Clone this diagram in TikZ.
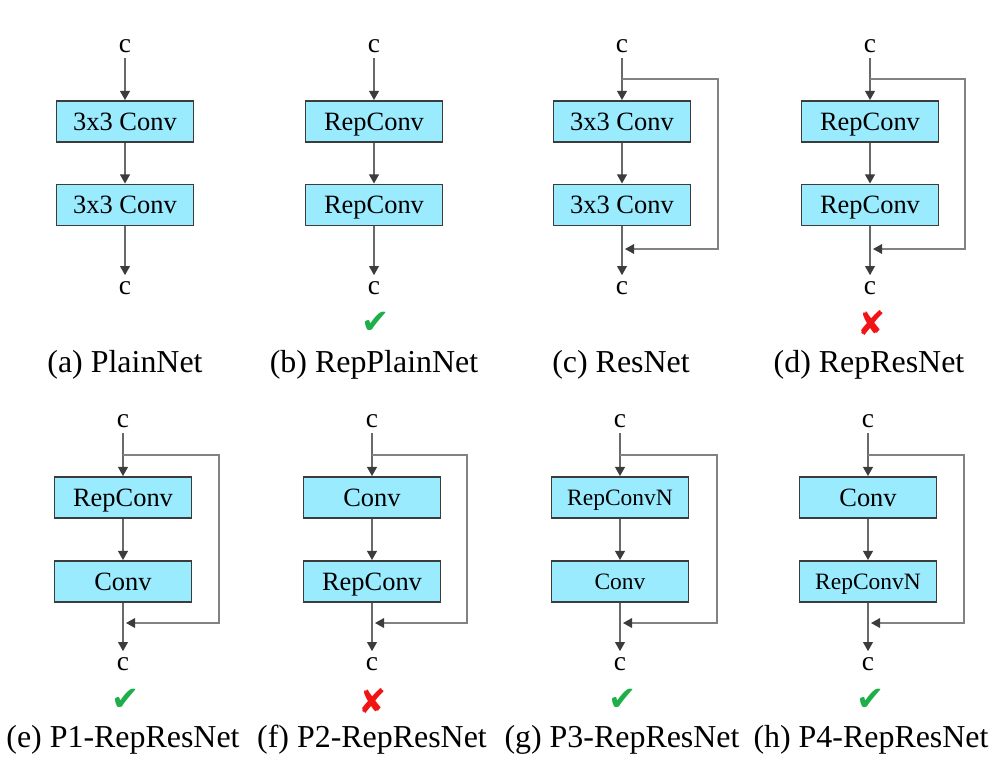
\documentclass[tikz,border=0pt]{standalone}
\usepackage{fontspec}
\setmainfont{Liberation Serif}
\newfontfamily\markfont{DejaVu Sans}
\usetikzlibrary{arrows.meta}

\definecolor{boxfill}{RGB}{155,235,255}
\definecolor{boxline}{RGB}{60,60,60}
\definecolor{wire}{RGB}{105,105,105}
\definecolor{skipwire}{RGB}{130,130,130}
\definecolor{okgreen}{RGB}{30,175,75}
\definecolor{badred}{RGB}{240,20,20}

\tikzset{
  convbox/.style={draw=boxline, fill=boxfill, line width=1.2pt, minimum width=3.42cm,
    minimum height=1.03cm, inner sep=0pt, text height=12.5pt, text depth=0pt,
    font=\fontsize{18.8}{20}\selectfont},
  smallbox/.style={convbox, text height=11.1pt, font=\fontsize{16.7}{18}\selectfont},
  chan/.style={anchor=base, inner sep=4pt, font=\fontsize{19.5}{20}\selectfont},
  caption/.style={anchor=base, inner sep=0pt, font=\fontsize{22.7}{24}\selectfont},
  good/.style={text=okgreen, inner sep=0pt, font=\markfont\fontsize{24}{26}\selectfont},
  bad/.style={text=badred, inner sep=0pt, font=\markfont\fontsize{24}{26}\selectfont},
  flow/.style={draw=wire, line width=1pt, -{Triangle[length=6.5pt,width=7pt,color=boxline]}},
  skip/.style={draw=skipwire, line width=0.9pt, -{Triangle[length=6.5pt,width=7pt,color=boxline]}}
}

\begin{document}
\begin{tikzpicture}[x=0.025cm, y=-0.025cm]
    \useasboundingbox (0,0) rectangle (1005,771);

    % (a) PlainNet
    \node [chan] (a-in) at (125,52) {c};
    \node [convbox] (a-b1) at (125,121.5) {3x3 Conv};
    \node [convbox] (a-b2) at (125,205) {3x3 Conv};
    \node [chan] (a-out) at (125,294) {c};
    \node [caption] (a-lab) at (125,372) {(a) PlainNet};
    \draw [flow] (a-in) -- (a-b1);
    \draw [flow] (a-b1) -- (a-b2);
    \draw [flow] (a-b2) -- (a-out);

    % (b) RepPlainNet
    \node [chan] (b-in) at (374,52) {c};
    \node [convbox] (b-b1) at (374,121.5) {RepConv};
    \node [convbox] (b-b2) at (374,205) {RepConv};
    \node [chan] (b-out) at (374,294) {c};
    \node [good] (b-mark) at (376,323) {✔};
    \node [caption] (b-lab) at (374,372) {(b) RepPlainNet};
    \draw [flow] (b-in) -- (b-b1);
    \draw [flow] (b-b1) -- (b-b2);
    \draw [flow] (b-b2) -- (b-out);

    % (c) ResNet
    \node [chan] (c-in) at (622,52) {c};
    \node [convbox] (c-b1) at (622,121.5) {3x3 Conv};
    \node [convbox] (c-b2) at (622,205) {3x3 Conv};
    \node [chan] (c-out) at (622,294) {c};
    \node [caption] (c-lab) at (621,372) {(c) ResNet};
    \coordinate (c-split) at (622,79);
    \coordinate (c-join) at (625,249);
    \draw [flow] (c-in) -- (c-b1);
    \draw [flow] (c-b1) -- (c-b2);
    \draw [flow] (c-b2) -- (c-out);
    \draw [skip] (c-split) -- (718,79) |- (c-join);

    % (d) RepResNet
    \node [chan] (d-in) at (870,52) {c};
    \node [convbox] (d-b1) at (870,121.5) {RepConv};
    \node [convbox] (d-b2) at (870,205) {RepConv};
    \node [chan] (d-out) at (870,294) {c};
    \node [bad] (d-mark) at (872,323) {✘};
    \node [caption] (d-lab) at (869,372) {(d) RepResNet};
    \coordinate (d-split) at (870,79);
    \coordinate (d-join) at (873,249);
    \draw [flow] (d-in) -- (d-b1);
    \draw [flow] (d-b1) -- (d-b2);
    \draw [flow] (d-b2) -- (d-out);
    \draw [skip] (d-split) -- (965,79) |- (d-join);

    % (e) P1-RepResNet
    \node [chan] (e-in) at (123,427) {c};
    \node [convbox] (e-b1) at (123,497.5) {RepConv};
    \node [convbox] (e-b2) at (123,581.5) {Conv};
    \node [chan] (e-out) at (123,670) {c};
    \node [good] (e-mark) at (126,700) {✔};
    \node [caption] (e-lab) at (123,747) {(e) P1-RepResNet};
    \coordinate (e-split) at (123,455);
    \coordinate (e-join) at (126,623);
    \draw [flow] (e-in) -- (e-b1);
    \draw [flow] (e-b1) -- (e-b2);
    \draw [flow] (e-b2) -- (e-out);
    \draw [skip] (e-split) -- (219,455) |- (e-join);

    % (f) P2-RepResNet
    \node [chan] (f-in) at (372,427) {c};
    \node [convbox] (f-b1) at (372,497.5) {Conv};
    \node [convbox] (f-b2) at (372,581.5) {RepConv};
    \node [chan] (f-out) at (372,670) {c};
    \node [bad] (f-mark) at (373,701) {✘};
    \node [caption] (f-lab) at (372,747) {(f) P2-RepResNet};
    \coordinate (f-split) at (372,455);
    \coordinate (f-join) at (375,623);
    \draw [flow] (f-in) -- (f-b1);
    \draw [flow] (f-b1) -- (f-b2);
    \draw [flow] (f-b2) -- (f-out);
    \draw [skip] (f-split) -- (467,455) |- (f-join);

    % (g) P3-RepResNet
    \node [chan] (g-in) at (620,427) {c};
    \node [smallbox] (g-b1) at (620,497.5) {RepConvN};
    \node [smallbox] (g-b2) at (620,581.5) {Conv};
    \node [chan] (g-out) at (620,670) {c};
    \node [good] (g-mark) at (623,700) {✔};
    \node [caption] (g-lab) at (622,747) {(g) P3-RepResNet};
    \coordinate (g-split) at (620,455);
    \coordinate (g-join) at (623,623);
    \draw [flow] (g-in) -- (g-b1);
    \draw [flow] (g-b1) -- (g-b2);
    \draw [flow] (g-b2) -- (g-out);
    \draw [skip] (g-split) -- (717,455) |- (g-join);

    % (h) P4-RepResNet
    \node [chan] (h-in) at (868,427) {c};
    \node [convbox] (h-b1) at (868,497.5) {Conv};
    \node [smallbox] (h-b2) at (868,581.5) {RepConvN};
    \node [chan] (h-out) at (868,670) {c};
    \node [good] (h-mark) at (871,700) {✔};
    \node [caption] (h-lab) at (871,747) {(h) P4-RepResNet};
    \coordinate (h-split) at (868,455);
    \coordinate (h-join) at (871,623);
    \draw [flow] (h-in) -- (h-b1);
    \draw [flow] (h-b1) -- (h-b2);
    \draw [flow] (h-b2) -- (h-out);
    \draw [skip] (h-split) -- (964,455) |- (h-join);
\end{tikzpicture}
\end{document}
